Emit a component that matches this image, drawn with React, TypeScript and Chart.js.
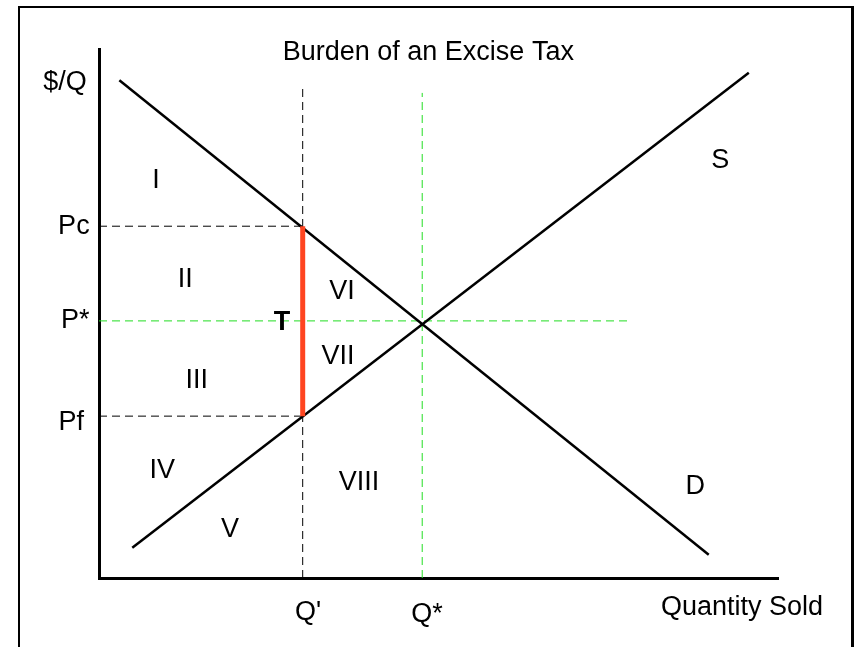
import React, { useEffect, useRef } from "react";
import { Chart, registerables } from "chart.js";

Chart.register(...registerables);

// Economic values (quantity on x, $/Q on y)
const demandPoints = [
  { x: 3.0, y: 94.1 },
  { x: 89.8, y: 4.4 },
];
const supplyPoints = [
  { x: 4.9, y: 5.7 },
  { x: 95.7, y: 95.5 },
];
const qPrime = 30.0;
const qStar = 47.6;
const priceConsumer = 66.5; // Pc
const priceStar = 48.6; // P*
const priceFirm = 30.6; // Pf
const qPrimeTop = 92.8;
const qStarTop = 91.7;
const pStarRight = 78.2;

const titleText = "Burden of an Excise Tax";
const axisLabels = ["$/Q", "Quantity Sold"];
const priceTickLabels = ["Pc", "P*", "Pf"];
const quantityTickLabels = ["Q'", "Q*"];
const regionLabels = ["I", "II", "III", "IV", "V", "VI", "VII", "VIII"];
const curveLabels = ["S", "D"];
const taxLabel = "T";

// annotation anchor positions (data units)
const regionAnchors = [
  [8.4, 75.2],
  [12.7, 56.5],
  [14.4, 37.4],
  [9.3, 20.4],
  [19.3, 9.1],
  [35.8, 54.1],
  [35.2, 41.8],
  [38.3, 18.1],
];
const curveAnchors = [
  [91.5, 79.0],
  [87.8, 17.2],
];

const FONT = '"Liberation Sans", Arial, Helvetica, sans-serif';

const labelPlugin = {
  id: "econLabels",
  afterDraw(chart: any) {
    const ctx = chart.ctx;
    const xs = chart.scales.x;
    const ys = chart.scales.y;
    const put = (text: string, x: number, y: number, bold = false) => {
      ctx.save();
      ctx.fillStyle = "#000";
      ctx.font = `${bold ? "bold " : ""}27px ${FONT}`;
      ctx.textAlign = "center";
      ctx.textBaseline = "middle";
      ctx.fillText(text, xs.getPixelForValue(x), ys.getPixelForValue(y));
      ctx.restore();
    };
    put(titleText, 48.5, 99.4);
    put(axisLabels[0], -5.0, 93.6);
    put(axisLabels[1], 94.7, -5.5);
    put(priceTickLabels[0], -3.7, priceConsumer);
    put(priceTickLabels[1], -3.5, priceStar);
    put(priceTickLabels[2], -4.1, priceFirm - 1.3);
    put(quantityTickLabels[0], qPrime + 0.8, -6.6);
    put(quantityTickLabels[1], qStar + 0.7, -7.0);
    regionLabels.forEach((t, i) => put(t, regionAnchors[i][0], regionAnchors[i][1]));
    curveLabels.forEach((t, i) => put(t, curveAnchors[i][0], curveAnchors[i][1]));
    put(taxLabel, qPrime - 3.05, priceStar - 0.4, true);
  },
};

export default function App() {
  const ref = useRef<HTMLCanvasElement>(null);

  useEffect(() => {
    if (!ref.current) return;
    const dash = [8, 5];
    const green = "#22dd22";
    const chart = new Chart(ref.current, {
      type: "scatter",
      data: {
        datasets: [
          {
            label: "T",
            data: [
              { x: qPrime, y: priceFirm },
              { x: qPrime, y: priceConsumer },
            ],
            borderColor: "#ff4520",
            borderWidth: 5,
            showLine: true,
            pointRadius: 0,
          },
          {
            label: "Demand",
            data: demandPoints,
            borderColor: "#000",
            borderWidth: 2.5,
            showLine: true,
            pointRadius: 0,
          },
          {
            label: "Supply",
            data: supplyPoints,
            borderColor: "#000",
            borderWidth: 2.5,
            showLine: true,
            pointRadius: 0,
          },
          {
            label: "Pc",
            data: [
              { x: 0, y: priceConsumer },
              { x: qPrime, y: priceConsumer },
            ],
            borderColor: "#000",
            borderWidth: 1,
            borderDash: dash,
            showLine: true,
            pointRadius: 0,
          },
          {
            label: "Pf",
            data: [
              { x: 0, y: priceFirm },
              { x: qPrime, y: priceFirm },
            ],
            borderColor: "#000",
            borderWidth: 1,
            borderDash: dash,
            showLine: true,
            pointRadius: 0,
          },
          {
            label: "Q'",
            data: [
              { x: qPrime, y: 0 },
              { x: qPrime, y: qPrimeTop },
            ],
            borderColor: "#000",
            borderWidth: 1,
            borderDash: dash,
            showLine: true,
            pointRadius: 0,
          },
          {
            label: "P*",
            data: [
              { x: 0, y: priceStar },
              { x: pStarRight, y: priceStar },
            ],
            borderColor: green,
            borderWidth: 1,
            borderDash: dash,
            showLine: true,
            pointRadius: 0,
          },
          {
            label: "Q*",
            data: [
              { x: qStar, y: 0 },
              { x: qStar, y: qStarTop },
            ],
            borderColor: green,
            borderWidth: 1,
            borderDash: dash,
            showLine: true,
            pointRadius: 0,
          },
        ],
      },
      options: {
        animation: false,
        responsive: false,
        layout: { padding: { left: 99, right: 79, top: 49, bottom: 69 } },
        plugins: {
          legend: { display: false },
          tooltip: { enabled: false },
          title: { display: false },
        },
        scales: {
          x: {
            type: "linear",
            min: 0,
            max: 100,
            grid: { display: false, drawTicks: false },
            ticks: { display: false },
            border: { display: true, width: 3, color: "#000" },
          },
          y: {
            type: "linear",
            min: 0,
            max: 100,
            grid: { display: false, drawTicks: false },
            ticks: { display: false },
            border: { display: true, width: 3, color: "#000" },
          },
        },
      },
      plugins: [labelPlugin],
    });
    return () => chart.destroy();
  }, []);

  return (
    <div style={{ position: "absolute", left: 0, top: 0, width: 857, height: 647, overflow: "hidden", background: "#fff" }}>
      <div
        style={{
          position: "absolute",
          left: 18,
          top: 6,
          width: 831,
          height: 700,
          borderLeft: "2px solid #000",
          borderTop: "2px solid #000",
          borderRight: "3px solid #000",
        }}
      />
      <canvas ref={ref} width={857} height={647} style={{ position: "absolute", left: 0, top: 0 }} />
    </div>
  );
}
